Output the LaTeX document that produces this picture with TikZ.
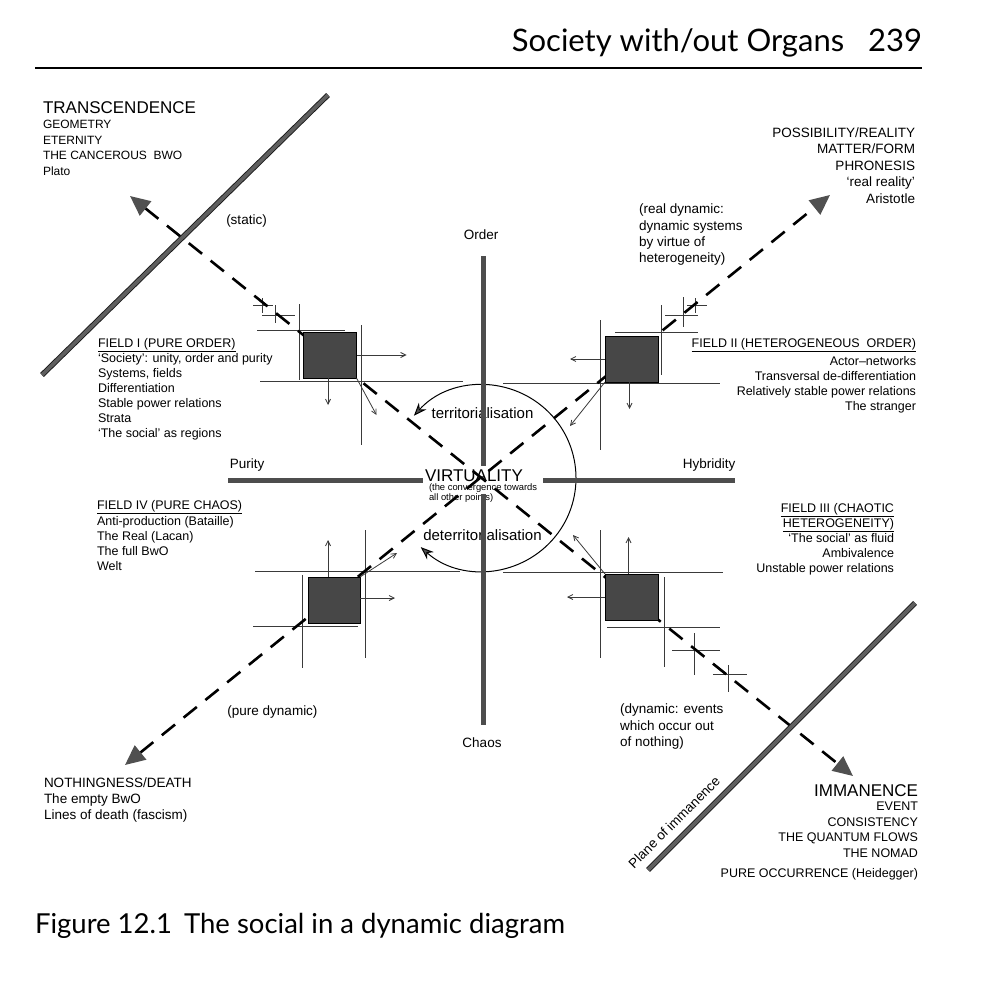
\documentclass[tikz,border=0pt]{standalone}
\usepackage{fontspec}
\setmainfont{Liberation Sans}
\newfontfamily\hdrfont{Lato}
\usetikzlibrary{arrows.meta}
\definecolor{barg}{HTML}{4D4D4D}
\definecolor{tipg}{HTML}{505050}
\definecolor{thing}{HTML}{3A3A3A}
\begin{document}
\begin{tikzpicture}[x=1pt,y=-1pt,
  every node/.style={inner sep=0pt, outer sep=0pt},
  axisbar/.style={line width=5pt, draw=barg},
  plane/.style={line width=0.9pt, draw=black!90, double=barg!90, double distance=3.6pt},
  dline/.style={line width=2.6pt, dash pattern=on 17pt off 11pt,
     {Triangle[length=20pt,width=18pt,color=tipg]}-{Triangle[length=20pt,width=18pt,color=tipg]}},
  frame/.style={line width=0.9pt, draw=thing},
  farrow/.style={line width=0.8pt, draw=thing, -{Straight Barb[length=5pt,width=5pt]}},
  fbox/.style={draw=black, line width=1pt, fill=black!72, minimum width=53pt, minimum height=46pt},
  bigtxt/.style={font=\fontsize{17}{20}\selectfont},
  midtxt/.style={font=\fontsize{13.5}{16.3}\selectfont},
  fldtxt/.style={font=\fontsize{12.5}{15}\selectfont},
  smltxt/.style={font=\fontsize{12}{15.5}\selectfont},
  ]
\useasboundingbox (0,0) rectangle (984,1000);

% header and caption
\node[font=\hdrfont\fontsize{31}{34}\selectfont, anchor=base east] (hdr) at (922,52) {Society with/out Organs\hspace{24pt}239};
\draw[line width=1.6pt] (35,68) -- (922,68);
\node[font=\hdrfont\fontsize{27.5}{30}\selectfont, anchor=base west] (cap) at (35,933) {Figure 12.1\hspace{12pt}The social in a dynamic diagram};

% corner texts
\node[bigtxt, anchor=base west] (trans) at (43,114) {TRANSCENDENCE};
\node[smltxt, anchor=north west, align=left] (transl) at (43,120.4) {GEOMETRY\\ETERNITY\\THE CANCEROUS\ \ BWO\\Plato};
\node[midtxt, anchor=north east, align=right, font=\fontsize{13.5}{16.6}\selectfont] (poss) at (915,127.3) {POSSIBILITY/REALITY\\MATTER/FORM\\PHRONESIS\\‘real reality’\\Aristotle};
\node[midtxt, anchor=base] (static) at (246.5,225) {(static)};
\node[midtxt, anchor=north west, align=left] (realdyn) at (639,204) {(real dynamic:\\dynamic systems\\by virtue of\\heterogeneity)};
\node[midtxt, anchor=base] (puredyn) at (272.5,715) {(pure dynamic)};
\node[midtxt, anchor=north west, align=left, font=\fontsize{13.5}{16.8}\selectfont] (dynev) at (620,703.5) {(dynamic: events\\which occur out\\of nothing)};
\node[midtxt, anchor=north west, align=left] (noth) at (44,777.5) {NOTHINGNESS/DEATH\\The empty BwO\\Lines of death (fascism)};
\node[bigtxt, anchor=base east] (imm) at (918,796) {IMMANENCE};
\node[fldtxt, anchor=north east, align=right, font=\fontsize{12.5}{15.6}\selectfont] (imml) at (918,802) {EVENT\\CONSISTENCY\\THE QUANTUM FLOWS\\THE NOMAD\\[4pt]PURE OCCURRENCE (Heidegger)};
\node[midtxt, anchor=base west, rotate=45] (planetxt) at (634,869) {Plane of immanence};

% field texts
\node[fldtxt, anchor=north west, align=left] (f1t) at (98,338.5) {\underline{FIELD I (PURE ORDER)}\\‘Society’: unity, order and purity\\Systems, fields\\Differentiation\\Stable power relations\\Strata\\‘The social’ as regions};
\node[fldtxt, anchor=north east, align=right] (f2t) at (916,338.5) {\underline{FIELD II (HETEROGENEOUS\ \ ORDER)}\\[2.5pt]Actor--networks\\Transversal de-differentiation\\Relatively stable power relations\\The stranger};
\node[fldtxt, anchor=north east, align=right] (f3t) at (894,503) {\underline{FIELD III (CHAOTIC}\\\underline{HETEROGENEITY)}\\‘The social’ as fluid\\Ambivalence\\Unstable power relations};
\node[fldtxt, anchor=north west, align=left] (f4t) at (97,500) {\underline{FIELD IV (PURE CHAOS)}\\[1.7pt]Anti-production (Bataille)\\The Real (Lacan)\\The full BwO\\Welt};

% axis labels
\node[midtxt, anchor=base] (order) at (481,240) {Order};
\node[midtxt, anchor=base] (chaos) at (482,747) {Chaos};
\node[midtxt, anchor=base] (purity) at (247,468.5) {Purity};
\node[midtxt, anchor=base] (hybr) at (709,468.5) {Hybridity};

% centre texts
\node[font=\fontsize{15}{18}\selectfont, anchor=base] (terr) at (482.5,418) {territorialisation};
\node[font=\fontsize{15}{18}\selectfont, anchor=base] (deterr) at (482.5,540) {deterritorialisation};
\node[font=\fontsize{9.4}{9.8}\selectfont, anchor=north west, align=left] (conv) at (429,484) {(the convergence towards\\all other points)};

% field frames
\draw[frame] (257,330) -- (345,330);
\draw[frame] (299,304) -- (299,380);
\draw[frame] (361,325) -- (361,445);
\draw[frame] (260,381) -- (463,381);
\draw[frame] (615,332) -- (698,332);
\draw[frame] (661,305) -- (661,375);
\draw[frame] (600,320) -- (600,450);
\draw[frame] (503,383) -- (720,383);
\draw[frame] (503,572) -- (723,572);
\draw[frame] (600,530) -- (600,658);
\draw[frame] (664,577) -- (664,667);
\draw[frame] (607,627) -- (720,627);
\draw[frame] (255,571) -- (460,571);
\draw[frame] (365,530) -- (365,658);
\draw[frame] (302,575) -- (302,668);
\draw[frame] (253,626) -- (358,626);
% crosses
\draw[frame] (253,305) -- (273,305) (262,298) -- (262,313);
\draw[frame] (262,315) -- (295,315) (275,305) -- (275,323);
\draw[frame] (665,315) -- (698,315) (683,297) -- (683,327);
\draw[frame] (687,305) -- (707,305) (695,298) -- (695,313);
\draw[frame] (672,650) -- (720,650) (694,633) -- (694,675);
\draw[frame] (713,674) -- (747,674) (728,665) -- (728,692);

% circle of (de)territorialisation
\coordinate (vc) at (483,478);
\draw[line width=1pt, {Stealth[length=13pt,width=10pt,fill=tipg]}-{Stealth[length=13pt,width=10pt,fill=tipg]}]
  ([shift={(138:93pt)}]vc) arc[start angle=138, end angle=-132, radius=93pt];

% dashed diagonals
\coordinate (tl) at (130,196);
\coordinate (br) at (853,776);
\coordinate (tr) at (830,195);
\coordinate (bl) at (125,765);
\draw[dline] (tl) -- (br);
\draw[dline] (bl) -- (tr);

% field boxes
\node[fbox] (f1) at (330,355) {};
\node[fbox] (f2) at (631.5,359) {};
\node[fbox] (f3) at (631.5,597) {};
\node[fbox, minimum width=52pt] (f4) at (334,600) {};

\draw[farrow] (f1.east) -- ++(50,0);
\draw[farrow] ([xshift=-2pt]f1.south) -- ++(0,27);
\draw[farrow] (f1.south east) -- ++(20,37);
\draw[farrow] (f2.west) -- ++(-35,0);
\draw[farrow] ([xshift=-2pt]f2.south) -- ++(0,27);
\draw[farrow] (f2.south west) -- ++(-35,44);
\draw[farrow] ([xshift=-3pt]f3.north) -- ++(0,-37);
\draw[farrow] (f3.west) -- ++(-38,0);
\draw[farrow] (f3.north west) -- ++(-32,-39);
\draw[farrow] ([xshift=-6pt]f4.north) -- ++(0,-37);
\draw[farrow] ([yshift=2pt]f4.east) -- ++(35,0);
\draw[farrow] (f4.north east) -- ++(37,-24);

% axes
\draw[axisbar] (483,256) -- (483,466);
\draw[axisbar] (483,494) -- (483,725);
\draw[axisbar] (228,480) -- (423,480);
\draw[axisbar] (543,480) -- (735,480);
\node[bigtxt, anchor=base west] (virt) at (425,481) {VIRTUALITY};

% planes
\draw[plane] (42,375) -- (328,95);
\draw[plane] (648,870) -- (915,603);
\end{tikzpicture}
\end{document}
